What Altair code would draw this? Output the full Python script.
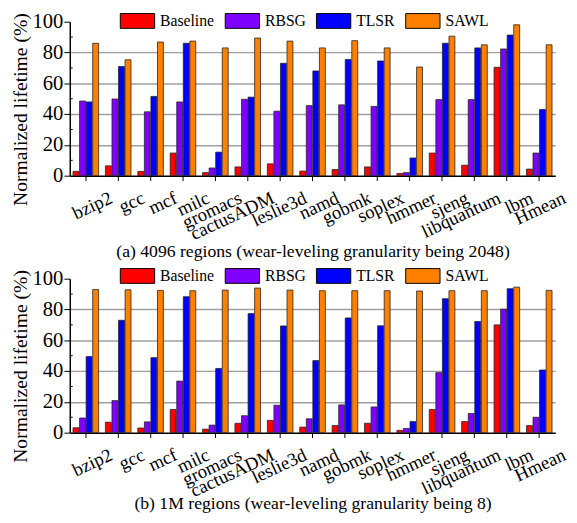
import altair as alt
import pandas as pd

benchmarks = ["bzip2", "gcc", "mcf", "milc", "gromacs", "cactusADM", "leslie3d",
              "namd", "gobmk", "soplex", "hmmer", "sjeng", "libquantum", "lbm", "Hmean"]
series = ["Baseline", "RBSG", "TLSR", "SAWL"]
colors = ["#FF0000", "#8000FF", "#0000FF", "#FF8000"]

a_baseline = [2.8, 6.4, 2.8, 14.7, 2.0, 5.7, 7.7, 3.0, 4.0, 5.7, 1.5, 14.7, 6.8, 70.4, 4.3]
a_rbsg = [48.5, 49.8, 41.5, 47.9, 5.0, 49.6, 41.9, 45.5, 46.0, 45.0, 2.0, 49.4, 49.4, 82.3, 14.7]
a_tlsr = [47.9, 70.9, 51.5, 86.0, 15.3, 51.0, 73.0, 68.0, 75.5, 74.5, 11.5, 86.0, 83.0, 91.3, 43.0]
a_sawl = [86.0, 75.3, 86.8, 87.4, 83.0, 89.4, 87.4, 83.0, 87.7, 83.0, 70.6, 90.6, 85.0, 98.0, 85.0]

b_baseline = [3.2, 6.8, 3.0, 15.0, 2.3, 6.1, 8.0, 3.6, 4.6, 6.1, 1.5, 15.0, 7.2, 70.0, 4.6]
b_rbsg = [9.5, 20.8, 7.0, 33.5, 4.9, 11.0, 17.8, 9.0, 18.0, 16.7, 2.7, 39.0, 12.4, 80.2, 10.0]
b_tlsr = [49.4, 73.0, 48.7, 88.3, 41.7, 77.3, 69.3, 46.8, 74.5, 69.4, 7.2, 87.0, 72.2, 93.5, 40.7]
b_sawl = [93.0, 92.8, 92.4, 92.2, 92.6, 93.9, 92.6, 92.2, 92.2, 92.2, 92.0, 92.2, 92.2, 94.5, 92.4]

title_a = "(a) 4096 regions (wear-leveling granularity being 2048)"
title_b = "(b) 1M regions (wear-leveling granularity being 8)"
y_title = "Normalized lifetime (%)"
y_ticks = [0, 20, 40, 60, 80, 100]
minor_values = [10, 30, 50, 70, 90]

FONT = "Liberation Serif"


def make_df(cols):
    rows = []
    for s, vals in zip(series, cols):
        for b, v in zip(benchmarks, vals):
            rows.append({"bench": b, "series": s, "value": v})
    return pd.DataFrame(rows)


def y_axis():
    return alt.Axis(title=y_title, values=y_ticks,
                    tickSize=6, tickColor="black", domainColor="black",
                    domainWidth=1.5, labelFont=FONT, labelFontSize=21,
                    labelColor="black", labelPadding=1, titleFont=FONT,
                    titleFontSize=20, titleFontWeight="normal",
                    titleColor="black", titlePadding=2, titleY=89,
                    grid=True, gridColor="#A0A0A0", gridWidth=1.5,
                    gridOpacity={"condition": {"test": "datum.value == 0 || datum.value == 100",
                                               "value": 0}, "value": 1})


def panel(cols, xtitle, title_y, legend_y):
    df = make_df(cols)
    yscale = alt.Scale(domain=[0, 100], nice=False)
    bars = alt.Chart(df).mark_bar(stroke="#222222", strokeWidth=0.8).encode(
        x=alt.X("bench:N", sort=benchmarks,
                scale=alt.Scale(paddingInner=0.21, paddingOuter=0.1),
                axis=alt.Axis(title=xtitle, labelAngle=-25, labelAlign="right",
                              labelBaseline="top", labelOffset=22, labelPadding=8,
                              tickSize=5, tickColor="black", domainColor="black",
                              domainWidth=1.5, labelFont=FONT, labelFontSize=19,
                              labelColor="black", titleFont=FONT, titleFontSize=18,
                              titleFontWeight="normal", titleColor="black",
                              titleY=title_y, titleBaseline="middle",
                              labelOverlap=False, grid=False)),
        xOffset=alt.XOffset("series:N", sort=series,
                            scale=alt.Scale(paddingInner=0.1, paddingOuter=0)),
        y=alt.Y("value:Q", scale=yscale, axis=y_axis()),
        color=alt.Color("series:N", sort=series,
                        scale=alt.Scale(domain=series, range=colors),
                        legend=alt.Legend(title=None, orient="none", direction="horizontal",
                                          legendX=51, legendY=legend_y, padding=0,
                                          symbolType="M-1,-0.43L1,-0.43L1,0.43L-1,0.43Z",
                                          symbolSize=1225, symbolStrokeColor="black",
                                          symbolStrokeWidth=1, symbolOpacity=1,
                                          labelFont=FONT, labelFontSize=16,
                                          labelColor="black", labelOffset=5,
                                          columnPadding=8)),
    )
    minor = alt.Chart(pd.DataFrame({"value": minor_values})).mark_rule(
        color="black", strokeWidth=1
    ).encode(y=alt.Y("value:Q", scale=yscale, axis=y_axis()),
             x=alt.value(0), x2=alt.value(3))
    return alt.layer(bars, minor).properties(width=495, height=157)


top = panel([a_baseline, a_rbsg, a_tlsr, a_sawl], title_a, 77, -19)
bottom = panel([b_baseline, b_rbsg, b_tlsr, b_sawl], title_b, 72, -21)

chart = alt.vconcat(top, bottom, spacing=105, bounds="flush").resolve_legend(
    color="independent"
).properties(padding={"left": 2, "top": -10, "right": 0, "bottom": 0}).configure_view(
    stroke=None
)

chart.save("out.html", embed_options={"renderer": "svg", "actions": False})
